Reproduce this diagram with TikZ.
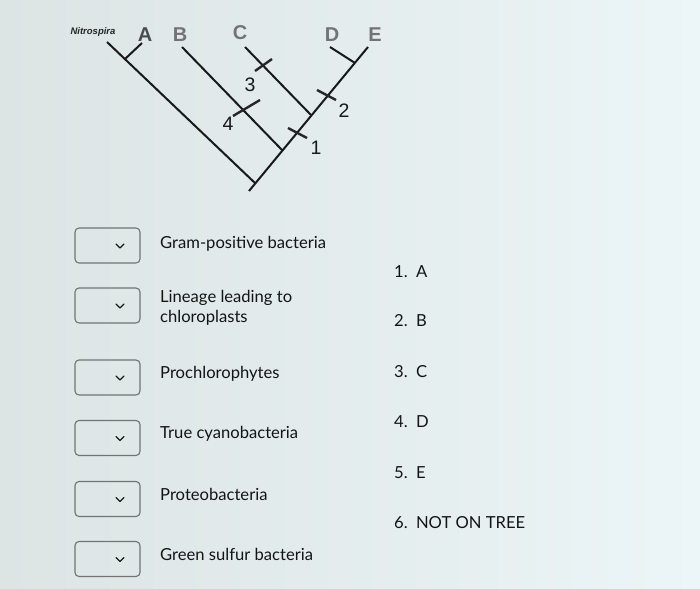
\documentclass[tikz,border=0pt]{standalone}
\usepackage{fontspec}
\setmainfont{Lato}
\newfontfamily\arialf{Liberation Sans}
\begin{document}
\begin{tikzpicture}[x=1pt,y=-1pt,
  branch/.style={line width=2pt,black!90},
  tick/.style={line width=2.4pt,black!85},
  dropbox/.style={draw=black!55,line width=1.1pt,rounded corners=4pt,minimum width=65pt,minimum height=35pt,inner sep=0pt},
  chev/.style={line width=1.3pt,black!90,line cap=round,line join=round},
  item/.style={anchor=west,font=\fontsize{16.6}{20}\selectfont,text=black!92,inner sep=0pt},
  taxon/.style={font=\arialf\bfseries\fontsize{20}{20}\selectfont,text=black!55,inner sep=0pt},
  num/.style={font=\arialf\fontsize{19.5}{19.5}\selectfont,text=black!90,inner sep=0pt}]
\shade[left color={rgb,255:red,220;green,228;blue,228},right color={rgb,255:red,236;green,245;blue,247}] (0,0) rectangle (700,588);
\useasboundingbox (0,0) rectangle (700,588);
% tree coordinates
\coordinate (nit) at (107,42);
\coordinate (root) at (255,183);
\coordinate (rootbot) at (249,191);
\coordinate (etop) at (368,47);
\coordinate (atop) at (142,43);
\coordinate (ajoin) at (125,59);
\coordinate (btop) at (182,47);
\coordinate (bjoin) at (282,150);
\coordinate (ctop) at (245,47);
\coordinate (cjoin) at (311,115);
\coordinate (dtop) at (330,47);
\coordinate (djoin) at (355,63);
\draw[branch] (nit) -- (root);
\draw[branch] (rootbot) -- (etop);
\draw[branch] (atop) -- (ajoin);
\draw[branch] (btop) -- (bjoin);
\draw[branch] (ctop) -- (cjoin);
\draw[branch] (dtop) -- (djoin);
% ticks
\coordinate (t3a) at (255,71); \coordinate (t3b) at (272,59);
\coordinate (t4a) at (233,116); \coordinate (t4b) at (260,100);
\coordinate (t1a) at (288,128); \coordinate (t1b) at (307,138);
\coordinate (t2a) at (317,90); \coordinate (t2b) at (336,100);
\draw[tick] (t3a) -- (t3b);
\draw[tick] (t4a) -- (t4b);
\draw[tick] (t1a) -- (t1b);
\draw[tick] (t2a) -- (t2b);
\node[num] (n3) at (250,85) {3};
\node[num] (n4) at (228,124) {4};
\node[num] (n1) at (316,148) {1};
\node[num] (n2) at (344,111) {2};
% taxa
\node[font=\arialf\bfseries\itshape\fontsize{9.5}{10}\selectfont,text=black!85,inner sep=0pt] (nitlab) at (93,32) {Nitrospira};
\node[taxon,text=black!70] (la) at (145,35) {A};
\node[taxon] (lb) at (180,35) {B};
\node[taxon] (lc) at (240,33) {C};
\node[taxon] (ld) at (332,35) {D};
\node[taxon] (le) at (375,35) {E};
% drop boxes
\foreach \i/\y in {1/245.5,2/305.5,3/377.5,4/438,5/499,6/559}{
  \node[dropbox] (box\i) at (107.5,\y) {};
  \draw[chev] (box\i.center) ++(8.5,-1.5) -- ++(4,4) -- ++(4,-4);
}
\node[item] (t1) at (160,244) {Gram-positive bacteria};
\node[item,align=left] (t2) at (160,308) {Lineage leading to\\chloroplasts};
\node[item] (t3) at (160,374) {Prochlorophytes};
\node[item] (t4) at (160,434) {True cyanobacteria};
\node[item] (t5) at (160,494) {Proteobacteria};
\node[item] (t6) at (160,554) {Green sulfur bacteria};
% answer list
\node[item] (o1) at (394,272) {1.\enspace A};
\node[item] (o2) at (394,321) {2.\enspace B};
\node[item] (o3) at (394,372) {3.\enspace C};
\node[item] (o4) at (394,422) {4.\enspace D};
\node[item] (o5) at (394,473) {5.\enspace E};
\node[item] (o6) at (394,523) {6.\enspace NOT ON TREE};
\end{tikzpicture}
\end{document}
